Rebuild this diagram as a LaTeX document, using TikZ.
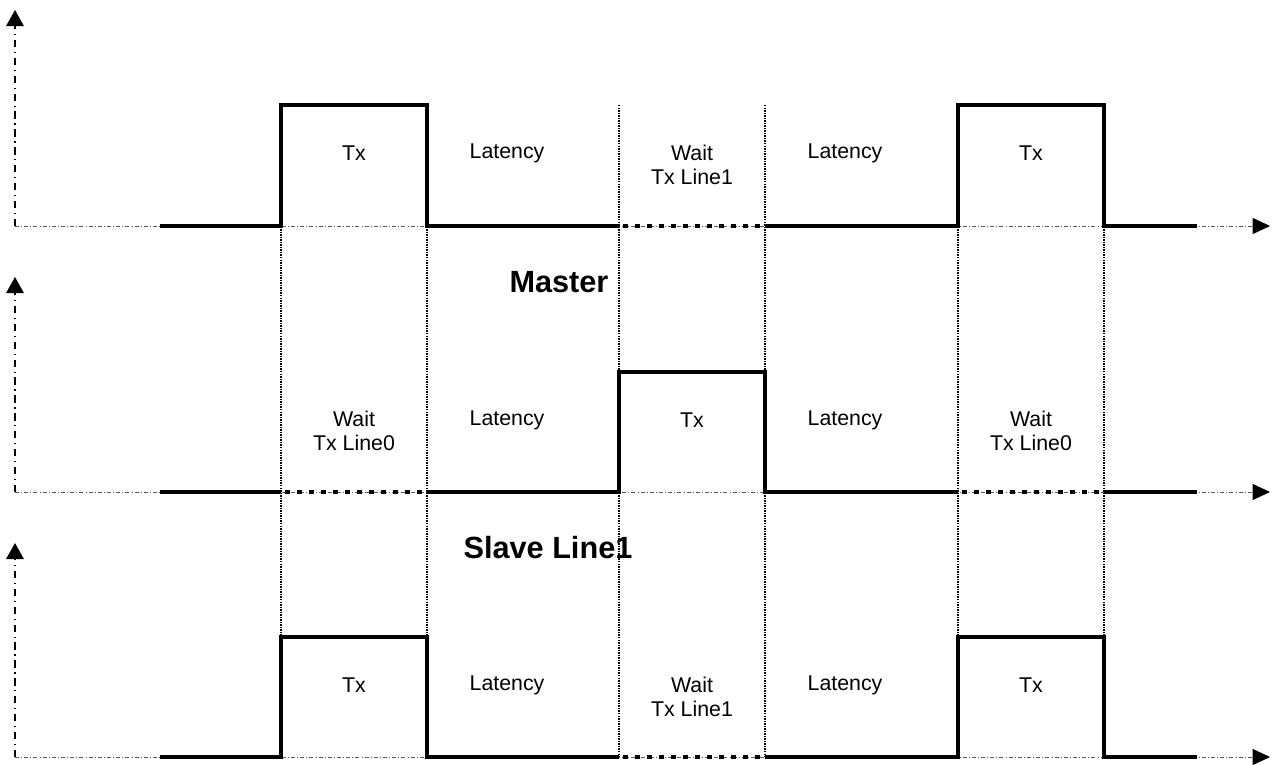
\documentclass[tikz,border=0pt]{standalone}
\usepackage{fontspec}
\setmainfont{Liberation Sans}
\usetikzlibrary{arrows.meta}
\tikzset{
  sig/.style={line width=3.6pt, line join=miter},
  wait/.style={line width=3.6pt, dash pattern=on 3.6pt off 5.4pt, dash phase=6pt},
  guide/.style={line width=1.2pt, dash pattern=on 1.1pt off 0.8pt},
  yaxis/.style={line width=1.4pt, dash pattern=on 5.5pt off 3.5pt on 0.9pt off 3.5pt,
    -{Triangle[length=12pt,width=13pt]}},
  xaxis/.style={line width=0.5pt, black!65, dash pattern=on 3pt off 1.6pt on 0.7pt off 1.6pt,
    -{Triangle[length=13pt,width=12pt,color=black]}},
  lbl/.style={font=\fontsize{16}{18.5}\selectfont, align=center},
  ttl/.style={font=\fontsize{23}{26}\selectfont\bfseries}
}
\begin{document}
\begin{tikzpicture}[x=0.75pt,y=-0.75pt]
\useasboundingbox (0,0) rectangle (1274,764);
% axes
\draw[yaxis] (15,226) -- (15,10);
\draw[xaxis] (15,226) -- (1270,226);
\draw[yaxis] (15,492) -- (15,277);
\draw[xaxis] (15,492) -- (1270,492);
\draw[yaxis] (15,757) -- (15,543);
\draw[xaxis] (15,757) -- (1270,757);
% time marks
\draw[guide] (281,105) -- (281,757);
\draw[guide] (427,105) -- (427,757);
\draw[guide] (619,105) -- (619,757);
\draw[guide] (765,105) -- (765,757);
\draw[guide] (958,105) -- (958,757);
\draw[guide] (1104,105) -- (1104,757);
% master
\draw[sig] (160,226) -- (281,226) -- (281,105) -- (427,105) -- (427,226) -- (619,226);
\draw[wait] (619,226) -- (765,226);
\draw[sig] (765,226) -- (958,226) -- (958,105) -- (1104,105) -- (1104,226) -- (1197,226);
\node[lbl] (txA) at (354,153) {Tx};
\node[lbl] (latA) at (507,153) {Latency};
\node[lbl] (waitA) at (692,165) {Wait\\Tx Line1};
\node[lbl] (latB) at (845,153) {Latency};
\node[lbl] (txB) at (1031,153) {Tx};
\node[ttl] (master) at (559,282) {Master};
% slave line1
\draw[sig] (160,492) -- (281,492);
\draw[wait] (281,492) -- (427,492);
\draw[sig] (427,492) -- (619,492) -- (619,372) -- (765,372) -- (765,492) -- (958,492);
\draw[wait] (958,492) -- (1104,492);
\draw[sig] (1104,492) -- (1197,492);
\node[lbl] (waitB) at (354,431) {Wait\\Tx Line0};
\node[lbl] (latC) at (507,420) {Latency};
\node[lbl] (txC) at (692,420) {Tx};
\node[lbl] (latD) at (845,420) {Latency};
\node[lbl] (waitC) at (1031,431) {Wait\\Tx Line0};
\node[ttl] (slave) at (548,548) {Slave Line1};
% slave line0
\draw[sig] (160,757) -- (281,757) -- (281,637) -- (427,637) -- (427,757) -- (619,757);
\draw[wait] (619,757) -- (765,757);
\draw[sig] (765,757) -- (958,757) -- (958,637) -- (1104,637) -- (1104,757) -- (1197,757);
\node[lbl] (txD) at (354,685) {Tx};
\node[lbl] (latE) at (507,685) {Latency};
\node[lbl] (waitD) at (692,697) {Wait\\Tx Line1};
\node[lbl] (latF) at (845,685) {Latency};
\node[lbl] (txE) at (1031,685) {Tx};
\end{tikzpicture}
\end{document}
